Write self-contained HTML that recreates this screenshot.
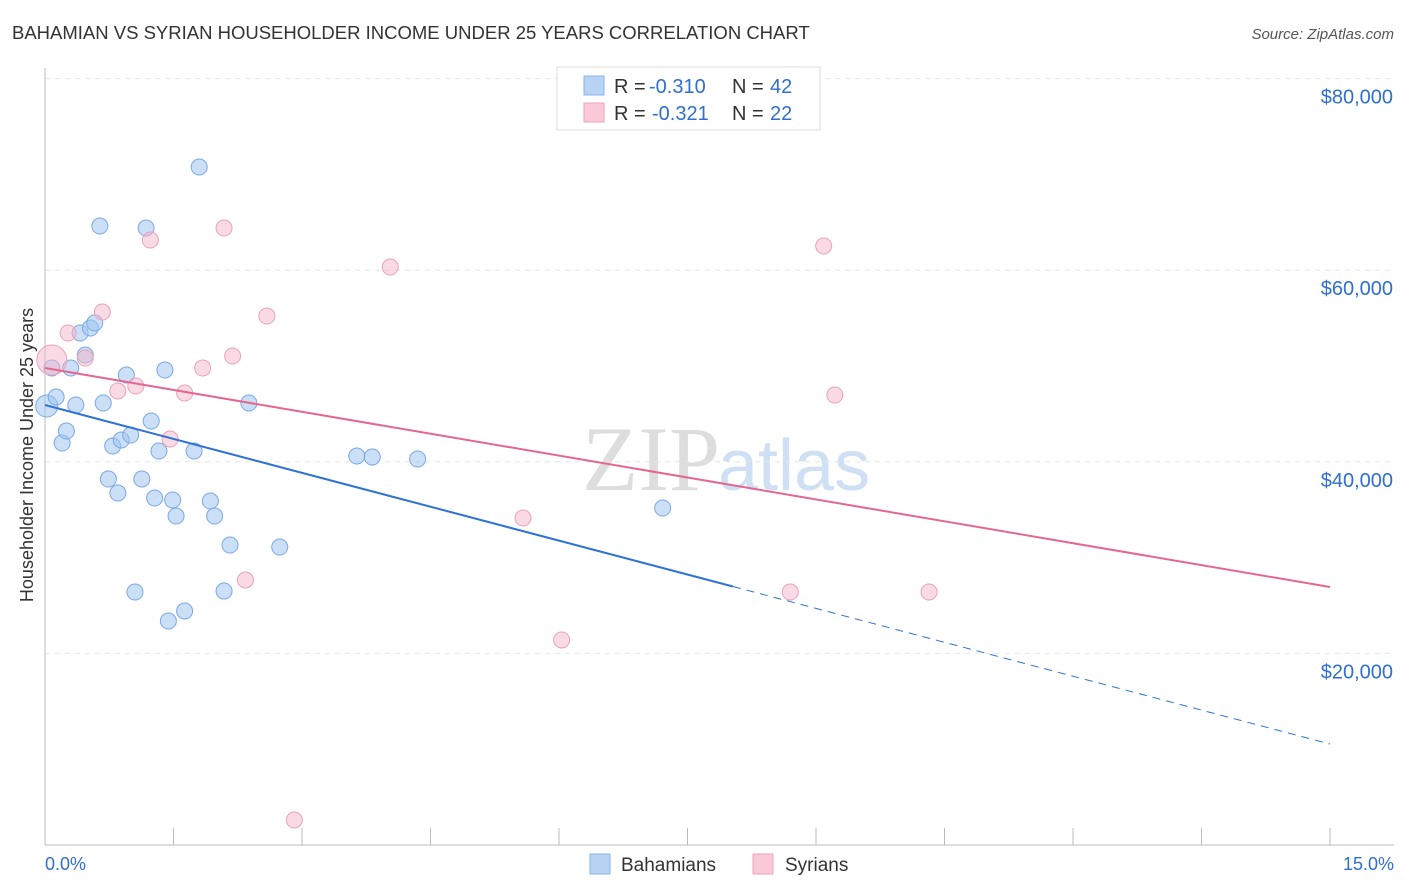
<!DOCTYPE html>
<html><head><meta charset="utf-8"><style>
body{margin:0;background:#fff;font-family:"Liberation Sans",sans-serif}
svg{display:block}
</style></head><body>
<svg id="c" width="1406" height="892" xmlns="http://www.w3.org/2000/svg">
<text x="12" y="39" font-size="18.5" fill="#333">BAHAMIAN VS SYRIAN HOUSEHOLDER INCOME UNDER 25 YEARS CORRELATION CHART</text>
<text x="1394" y="39" font-size="15" fill="#555" font-style="italic" text-anchor="end">Source: ZipAtlas.com</text>
<text x="720" y="490" font-size="92" fill="#ddd" text-anchor="end" font-family="Liberation Serif,serif">ZIP</text>
<text x="718" y="490" font-size="72" fill="#cfe0f5">atlas</text>
<text transform="translate(33,455) rotate(-90)" font-size="18" fill="#333" text-anchor="middle">Householder Income Under 25 years</text>
<g id="grid"></g><g id="marks"></g>
<g>
<rect x="557" y="67" width="263" height="63" fill="#fff" stroke="#ddd"/>
<rect x="584" y="76" width="20" height="19" fill="#b8d3f3" stroke="#8ab4e8"/>
<rect x="584" y="103" width="20" height="19" fill="#f9c9d7" stroke="#eea5bd"/>
<text x="614" y="93" font-size="20" fill="#333">R =</text>
<text x="649" y="93" font-size="20" fill="#2f6fd0">-0.310</text>
<text x="732" y="93" font-size="20" fill="#333">N =</text>
<text x="770" y="93" font-size="20" fill="#2f6fd0">42</text>
<text x="614" y="120" font-size="20" fill="#333">R =</text>
<text x="652" y="120" font-size="20" fill="#2f6fd0">-0.321</text>
<text x="732" y="120" font-size="20" fill="#333">N =</text>
<text x="770" y="120" font-size="20" fill="#2f6fd0">22</text>
</g>
<g>
<rect x="590" y="854" width="20" height="20" fill="#b8d3f3" stroke="#8ab4e8"/>
<text x="621" y="871" font-size="19" fill="#333">Bahamians</text>
<rect x="753" y="854" width="20" height="20" fill="#f9c9d7" stroke="#eea5bd"/>
<text x="785" y="871" font-size="19" fill="#333">Syrians</text>
</g>
<text x="45" y="870" font-size="18" fill="#2f6fd0">0.0%</text>
<text x="1394" y="870" font-size="18" fill="#2f6fd0" text-anchor="end">15.0%</text>
</svg>
<script>
const yTicks=[20000,40000,60000,80000];
const yTickLabels=["$20,000","$40,000","$60,000","$80,000"];
const xTicks=[0,1.5,3,4.5,6,7.5,9,10.5,12,13.5,15];
const bahX=[0.02,0.08,0.13,0.20,0.25,0.30,0.36,0.41,0.47,0.53,0.58,0.64,0.68,0.74,0.79,0.85,0.89,0.95,1.00,1.05,1.13,1.18,1.24,1.28,1.33,1.40,1.44,1.49,1.53,1.63,1.74,1.80,1.93,1.98,2.09,2.16,2.38,2.74,3.64,3.82,4.35,7.21];
const bahY=[45823,49790,46762,41961,43214,49790,45927,53443,51146,53964,54486,64611,46136,38203,41648,36742,42274,49059,42796,26408,38203,64402,44257,36220,41126,49581,23381,36011,34341,24425,41126,70770,35907,34341,26513,31314,46136,31105,40604,40500,40291,35176];
const syrX=[0.08,0.27,0.47,0.67,0.85,1.06,1.23,1.46,1.63,1.84,2.09,2.19,2.34,2.59,2.91,4.03,5.58,6.03,8.70,9.09,9.22,10.32];
const syrY=[50624,53443,50833,55635,47388,47910,63150,42378,47180,49790,64402,51042,27661,55217,2610,60332,34132,21398,26408,62524,46971,26408];
const bahTrend=[45927,10542];
const syrTrend=[49790,26930];
const bahSolidEnd=8.03;
const NS="http://www.w3.org/2000/svg";
const X=v=>45+v/15*1285;
const Y=v=>845-v/20000*191.6;
function mk(t,a,p){const e=document.createElementNS(NS,t);for(const k in a)e.setAttribute(k,a[k]);p.appendChild(e);return e;}
const g=document.getElementById('grid'),m=document.getElementById('marks');
yTicks.forEach((t,i)=>{
 const l=mk('line',{x1:45,x2:1394,y1:Y(t),y2:Y(t),stroke:'#e6e6e6','stroke-dasharray':'5,5'},g);
 
 
 const tx=mk('text',{x:1393,y:Y(t)+25,'font-size':20,fill:'#2f6fd0','text-anchor':'end'},g);
 tx.textContent=yTickLabels[i];
 
 
});
mk('line',{x1:45,x2:45,y1:68,y2:845,stroke:'#bbb'},g);
mk('line',{x1:45,x2:1394,y1:845,y2:845,stroke:'#bbb'},g);
xTicks.forEach(t=>{
 const l=mk('line',{x1:X(t),x2:X(t),y1:828,y2:845,stroke:'#bbb'},g);
 
 
});
function pts(xs,ys,fill,stroke,name,big){
 xs.forEach((x,i)=>{
  const c=mk('circle',{cx:X(x),cy:Y(ys[i]),r:i===0?big:8,fill:fill,stroke:stroke,'stroke-width':1},m);
  
  
 });
}
pts(bahX,bahY,'rgba(160,196,240,0.55)','#7aa8e6','bahamian-point',11);
pts(syrX,syrY,'rgba(246,182,202,0.5)','#eba2ba','syrian-point',15);
const bAt=v=>bahTrend[0]+(bahTrend[1]-bahTrend[0])*v/15;
let l=mk('line',{x1:X(0),y1:Y(bAt(0)),x2:X(bahSolidEnd),y2:Y(bAt(bahSolidEnd)),stroke:'#2f72d6','stroke-width':2},m);


l=mk('line',{x1:X(bahSolidEnd),y1:Y(bAt(bahSolidEnd)),x2:X(15),y2:Y(bAt(15)),stroke:'#2f72d6','stroke-width':1,'stroke-dasharray':'8,6'},m);


l=mk('line',{x1:X(0),y1:Y(syrTrend[0]),x2:X(15),y2:Y(syrTrend[1]),stroke:'#e5668f','stroke-width':2},m);


</script>
</body></html>
